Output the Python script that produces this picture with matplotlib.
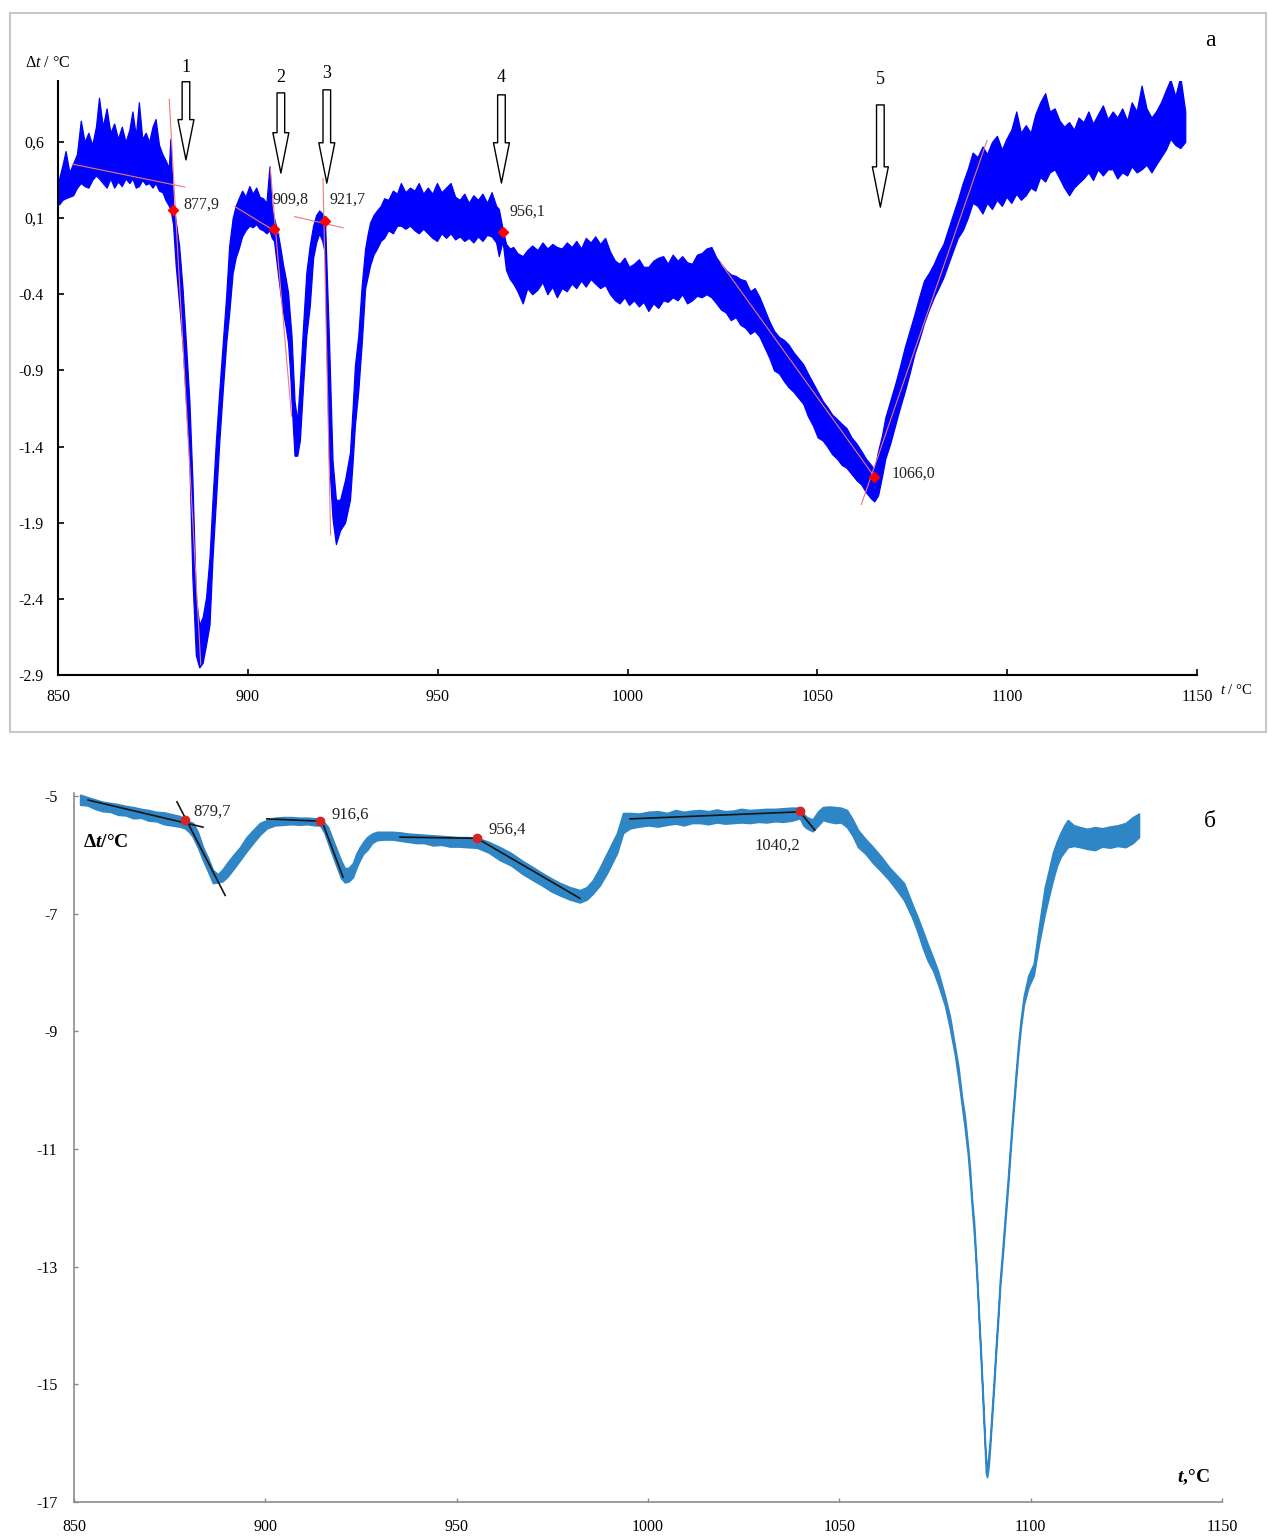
import numpy as np
import matplotlib.pyplot as plt
from matplotlib.patches import Rectangle

plt.rcParams['font.family'] = ['Liberation Serif', 'DejaVu Serif']
plt.rcParams['mathtext.fontset'] = 'custom'
plt.rcParams['mathtext.rm'] = 'Liberation Serif'
plt.rcParams['mathtext.it'] = 'Liberation Serif:italic'
plt.rcParams['mathtext.bf'] = 'Liberation Serif:bold'
plt.rcParams['mathtext.sf'] = 'Liberation Serif:italic:bold'

# ---------------- panel a: noisy DTA trace (lower / upper edge of the noise band)
a_t = [850.3, 851.2, 852.0, 853.0, 854.0, 855.0, 856.0, 857.0, 858.0, 859.0,
       860.0, 860.8, 861.8, 862.8, 863.8, 864.8, 865.8, 866.8, 867.8, 868.8,
       869.6, 870.5, 871.3, 872.2, 873.1, 874.0, 874.9, 875.7, 876.6, 877.5,
       878.3, 879.2, 879.6, 880.3, 881.0, 881.9, 882.8, 883.7, 884.6, 885.4,
       886.3, 887.2, 888.1, 889.0, 889.9, 890.7, 891.6, 892.5, 893.4, 894.3,
       895.1, 896.0, 896.8, 897.6, 898.5, 899.4, 900.4, 901.3, 902.2, 903.1,
       904.0, 904.9, 905.7, 906.3, 906.9, 907.9, 908.6, 909.3, 910.0, 910.6,
       911.1, 911.5, 912.3, 913.0, 913.7, 914.6, 915.4, 916.3, 917.2, 918.0,
       918.8, 919.6, 920.3, 920.7, 921.4, 922.3, 923.2, 924.3, 925.6, 926.9,
       927.6, 928.2, 929.1, 930.0, 930.9, 931.6, 932.2, 933.1, 934.0, 935.0,
       935.9, 937.0, 938.2, 939.3, 940.3, 941.5, 942.7, 943.9, 945.0, 946.2,
       947.4, 948.6, 949.8, 951.0, 952.2, 953.4, 954.6, 955.8, 957.0, 958.2,
       959.4, 960.6, 961.8, 963.0, 964.2, 965.4, 966.1, 967.1, 968.0, 969.0,
       969.9, 971.0, 972.4, 973.6, 974.9, 976.3, 977.6, 978.9, 980.2, 981.4,
       982.7, 984.0, 985.3, 986.5, 987.8, 989.0, 990.3, 991.5, 992.8, 994.1,
       995.4, 996.7, 997.9, 999.2, 1000.4, 1001.7, 1003.0, 1004.2, 1005.5, 1006.8,
       1008.1, 1009.4, 1010.6, 1011.9, 1013.2, 1014.4, 1015.7, 1017.0, 1018.3, 1019.5,
       1020.8, 1022.1, 1023.4, 1024.6, 1025.9, 1027.2, 1028.5, 1029.7, 1031.0, 1032.3,
       1033.5, 1034.8, 1036.1, 1037.4, 1038.6, 1039.9, 1041.2, 1042.4, 1043.7, 1045.0,
       1046.3, 1047.5, 1048.8, 1050.1, 1051.4, 1052.6, 1053.9, 1055.2, 1056.4, 1057.7,
       1059.0, 1060.3, 1061.6, 1062.8, 1064.1, 1065.0, 1066.0, 1067.0, 1067.9, 1069.2,
       1070.5, 1071.7, 1073.0, 1074.3, 1075.6, 1076.8, 1078.1, 1079.4, 1080.7, 1081.9,
       1083.2, 1084.5, 1085.8, 1087.0, 1088.3, 1089.6, 1090.9, 1092.2, 1093.5, 1094.7,
       1096.0, 1097.3, 1098.6, 1099.8, 1101.1, 1102.4, 1103.6, 1104.9, 1106.2, 1107.4,
       1108.7, 1110.0, 1111.2, 1112.5, 1113.8, 1115.0, 1116.3, 1117.6, 1118.8, 1120.1,
       1121.4, 1122.6, 1123.9, 1125.2, 1126.5, 1127.8, 1129.0, 1130.3, 1131.6, 1132.8,
       1134.1, 1135.4, 1136.7, 1138.0, 1139.2, 1140.5, 1141.8, 1143.0, 1144.3, 1145.6,
       1146.9]
a_lo = [0.19, 0.22, 0.23, 0.24, 0.25, 0.30, 0.33, 0.31, 0.30, 0.35,
        0.38, 0.36, 0.33, 0.30, 0.36, 0.30, 0.34, 0.31, 0.36, 0.33,
        0.36, 0.30, 0.31, 0.35, 0.32, 0.33, 0.30, 0.33, 0.28, 0.27,
        0.22, 0.18, 0.16, 0.06, -0.21, -0.46, -0.72, -1.10, -1.49, -2.26,
        -2.77, -2.85, -2.82, -2.70, -2.57, -2.13, -1.75, -1.36, -1.03, -0.72,
        -0.52, -0.26, -0.16, -0.10, -0.02, 0.02, 0.05, 0.04, 0.06, 0.03,
        0.02, 0.00, 0.02, -0.03, -0.05, -0.26, -0.40, -0.52, -0.62, -0.72,
        -0.90, -1.10, -1.46, -1.46, -1.36, -0.98, -0.67, -0.48, -0.16, -0.06,
        0.00, -0.05, -0.13, -0.72, -1.49, -1.87, -2.04, -1.95, -1.90, -1.75,
        -1.50, -1.26, -1.03, -0.72, -0.36, -0.28, -0.21, -0.14, -0.10, -0.05,
        -0.03, 0.02, 0.00, 0.05, 0.05, 0.03, 0.05, 0.02, 0.00, 0.03,
        0.00, -0.03, -0.05, 0.00, -0.03, 0.00, -0.04, -0.02, -0.05, -0.03,
        -0.06, -0.02, -0.05, -0.01, -0.02, -0.06, -0.15, -0.05, -0.24, -0.30,
        -0.33, -0.38, -0.46, -0.36, -0.40, -0.37, -0.32, -0.40, -0.35, -0.42,
        -0.36, -0.38, -0.33, -0.36, -0.31, -0.35, -0.30, -0.33, -0.36, -0.34,
        -0.40, -0.44, -0.46, -0.42, -0.47, -0.44, -0.48, -0.45, -0.51, -0.46,
        -0.49, -0.44, -0.45, -0.42, -0.44, -0.40, -0.46, -0.44, -0.41, -0.42,
        -0.40, -0.42, -0.46, -0.50, -0.52, -0.57, -0.55, -0.60, -0.62, -0.66,
        -0.64, -0.68, -0.75, -0.82, -0.90, -0.92, -0.97, -1.01, -1.04, -1.08,
        -1.12, -1.20, -1.26, -1.34, -1.36, -1.40, -1.45, -1.48, -1.52, -1.54,
        -1.58, -1.62, -1.65, -1.70, -1.74, -1.76, -1.72, -1.60, -1.48, -1.38,
        -1.26, -1.15, -1.04, -0.92, -0.79, -0.70, -0.59, -0.50, -0.42, -0.36,
        -0.29, -0.20, -0.11, -0.03, 0.02, 0.10, 0.20, 0.18, 0.13, 0.20,
        0.16, 0.22, 0.18, 0.24, 0.20, 0.26, 0.22, 0.25, 0.30, 0.28,
        0.37, 0.34, 0.40, 0.42, 0.36, 0.30, 0.25, 0.30, 0.33, 0.36,
        0.40, 0.35, 0.42, 0.38, 0.42, 0.42, 0.36, 0.40, 0.38, 0.44,
        0.40, 0.42, 0.45, 0.40, 0.45, 0.50, 0.55, 0.62, 0.58, 0.56,
        0.60]
a_hi = [0.36, 0.45, 0.54, 0.40, 0.46, 0.52, 0.74, 0.60, 0.66, 0.58,
        0.70, 0.89, 0.70, 0.82, 0.66, 0.72, 0.62, 0.70, 0.60, 0.68,
        0.80, 0.64, 0.86, 0.62, 0.66, 0.60, 0.70, 0.75, 0.58, 0.52,
        0.48, 0.43, 0.62, 0.20, 0.08, -0.08, -0.36, -0.72, -1.10, -1.62,
        -2.39, -2.57, -2.52, -2.39, -2.13, -1.75, -1.36, -1.03, -0.72, -0.41,
        -0.08, 0.10, 0.18, 0.23, 0.28, 0.24, 0.31, 0.26, 0.30, 0.24,
        0.23, 0.20, 0.44, 0.16, 0.10, 0.00, -0.10, -0.21, -0.30, -0.39,
        -0.55, -0.67, -1.10, -1.23, -0.98, -0.59, -0.26, -0.08, 0.05, 0.12,
        0.15, 0.13, 0.10, -0.20, -0.72, -1.49, -1.75, -1.75, -1.62, -1.44,
        -1.15, -0.87, -0.67, -0.34, -0.10, 0.00, 0.07, 0.12, 0.15, 0.18,
        0.23, 0.22, 0.28, 0.26, 0.33, 0.27, 0.30, 0.28, 0.33, 0.26,
        0.30, 0.26, 0.33, 0.27, 0.30, 0.33, 0.24, 0.22, 0.26, 0.20,
        0.25, 0.22, 0.26, 0.20, 0.27, 0.18, 0.16, 0.03, -0.07, -0.10,
        -0.09, -0.13, -0.15, -0.11, -0.08, -0.11, -0.06, -0.10, -0.07, -0.09,
        -0.10, -0.06, -0.09, -0.05, -0.10, -0.03, -0.06, -0.02, -0.07, -0.03,
        -0.12, -0.18, -0.20, -0.16, -0.22, -0.20, -0.17, -0.22, -0.22, -0.18,
        -0.16, -0.15, -0.20, -0.14, -0.18, -0.15, -0.19, -0.20, -0.14, -0.13,
        -0.10, -0.09, -0.16, -0.20, -0.24, -0.27, -0.28, -0.30, -0.31, -0.38,
        -0.36, -0.42, -0.50, -0.58, -0.64, -0.68, -0.70, -0.73, -0.78, -0.82,
        -0.86, -0.92, -0.98, -1.04, -1.10, -1.14, -1.19, -1.22, -1.25, -1.28,
        -1.34, -1.38, -1.43, -1.48, -1.52, -1.55, -1.43, -1.33, -1.21, -1.10,
        -0.99, -0.88, -0.75, -0.64, -0.53, -0.42, -0.31, -0.26, -0.20, -0.13,
        -0.07, 0.03, 0.13, 0.22, 0.33, 0.42, 0.53, 0.50, 0.57, 0.52,
        0.60, 0.64, 0.55, 0.62, 0.68, 0.80, 0.66, 0.71, 0.66, 0.78,
        0.86, 0.92, 0.80, 0.82, 0.74, 0.70, 0.73, 0.68, 0.76, 0.73,
        0.80, 0.72, 0.78, 0.84, 0.75, 0.80, 0.76, 0.82, 0.74, 0.86,
        0.80, 0.97, 0.82, 0.76, 0.80, 0.86, 0.94, 1.01, 0.90, 1.03,
        0.80]

a_onset_t = [880.3, 906.8, 920.3, 967.1, 1065.0]
a_onset_v = [0.151, 0.028, 0.080, 0.008, -1.597]
a_onset_txt = ['877,9', '909,8', '921,7', '956,1', '1066,0']
a_txt_t = [882.9, 906.6, 921.6, 969.0, 1069.5]
a_txt_v = [0.19, 0.22, 0.22, 0.14, -1.58]
# tangent lines (t1, v1, t2, v2)
a_tangents = [(853.7, 0.455, 883.4, 0.304), (879.3, 0.88, 887.6, -2.83),
              (896.5, 0.177, 908.4, -0.005), (905.9, 0.43, 911.5, -1.20),
              (912.3, 0.11, 925.1, 0.036), (919.8, 0.36, 921.8, -1.98),
              (1024.6, -0.197, 1065.0, -1.597), (1061.6, -1.78, 1094.7, 0.61)]
# hollow arrows: number, t, top, tip, label y
a_arrow_num = ['1', '2', '3', '4', '5']
a_arrow_t = [883.7, 908.7, 920.8, 966.8, 1066.6]
a_arrow_top = [0.995, 0.922, 0.942, 0.909, 0.843]
a_arrow_tip = [0.482, 0.396, 0.330, 0.330, 0.172]
a_arrow_lab = [1.087, 1.020, 1.047, 1.020, 1.008]
a_yticks = [0.6, 0.1, -0.4, -0.9, -1.4, -1.9, -2.4, -2.9]
a_ylabels = ['0,6', '0,1', '-0.4', '-0.9', '-1.4', '-1.9', '-2.4', '-2.9']
xticks = [850, 900, 950, 1000, 1050, 1100, 1150]

# ---------------- panel б
b_t = [851.6, 853.5, 855.5, 857.5, 859.5, 861.5, 863.5, 865.5, 867.5, 869.5,
       871.5, 873.5, 875.5, 877.5, 879.0, 880.2, 881.1, 882.4, 883.7, 885.0,
       886.3, 887.6, 888.8, 890.0, 891.7, 893.4, 895.1, 896.8, 898.6, 900.4,
       902.5, 904.7, 906.8, 909.0, 911.0, 913.0, 914.3, 915.4, 916.4, 917.5,
       918.7, 919.8, 920.8, 921.8, 922.9, 923.8, 924.7, 925.6, 926.6, 927.9,
       929.2, 931.2, 933.2, 935.2, 937.3, 939.4, 941.5, 943.8, 946.0, 948.2,
       950.4, 952.7, 955.3, 958.3, 961.3, 964.2, 967.1, 969.9, 972.3, 974.7,
       977.0, 979.6, 982.2, 984.0, 985.6, 987.4, 989.3, 990.6, 991.9, 992.7,
       993.5, 995.3, 997.7, 1000.1, 1002.6, 1005.0, 1007.2, 1009.4, 1011.5, 1013.6,
       1015.8, 1018.0, 1020.1, 1022.2, 1024.4, 1026.6, 1028.8, 1031.0, 1033.2, 1035.3,
       1037.5, 1039.7, 1040.6, 1041.5, 1043.0, 1044.5, 1045.7, 1047.3, 1048.9, 1050.4,
       1052.0, 1053.5, 1054.9, 1056.8, 1058.8, 1060.9, 1063.0, 1065.0, 1066.9, 1069.0,
       1070.4, 1071.8, 1073.1, 1074.5, 1075.8, 1077.6, 1078.9, 1080.2, 1081.1, 1082.0,
       1082.8, 1083.6, 1084.1, 1084.6, 1085.2, 1085.7, 1086.1, 1086.5, 1086.9, 1087.3,
       1087.6, 1087.9, 1088.3, 1088.6, 1089.0, 1089.4, 1089.9, 1090.4, 1090.9, 1091.4,
       1092.0, 1092.7, 1093.4, 1094.1, 1094.7, 1095.4, 1096.0, 1096.7, 1097.4, 1098.2,
       1099.4, 1100.8, 1102.2, 1103.7, 1104.8, 1105.8, 1106.8, 1107.8, 1108.8, 1109.7,
       1111.3, 1112.9, 1114.8, 1116.8, 1118.7, 1120.7, 1122.7, 1124.8, 1126.7, 1128.3]
b_lo = [-5.15, -5.16, -5.22, -5.26, -5.27, -5.32, -5.33, -5.38, -5.37, -5.42,
        -5.43, -5.48, -5.50, -5.52, -5.55, -5.62, -5.70, -5.88, -6.09, -6.28,
        -6.48, -6.47, -6.45, -6.38, -6.24, -6.09, -5.94, -5.80, -5.66, -5.55,
        -5.50, -5.49, -5.48, -5.49, -5.48, -5.50, -5.50, -5.62, -5.80, -6.00,
        -6.21, -6.40, -6.47, -6.45, -6.38, -6.22, -6.09, -5.98, -5.92, -5.80,
        -5.75, -5.74, -5.74, -5.76, -5.78, -5.80, -5.80, -5.84, -5.83, -5.86,
        -5.86, -5.87, -5.88, -5.96, -6.09, -6.18, -6.32, -6.43, -6.52, -6.62,
        -6.69, -6.76, -6.81, -6.76, -6.66, -6.52, -6.31, -6.14, -5.97, -5.80,
        -5.63, -5.55, -5.52, -5.50, -5.52, -5.49, -5.47, -5.50, -5.46, -5.46,
        -5.48, -5.45, -5.47, -5.46, -5.45, -5.46, -5.44, -5.45, -5.43, -5.44,
        -5.42, -5.38, -5.50, -5.55, -5.60, -5.50, -5.41, -5.44, -5.46, -5.45,
        -5.53, -5.68, -5.87, -5.98, -6.14, -6.28, -6.43, -6.60, -6.77, -7.06,
        -7.30, -7.58, -7.80, -7.97, -8.20, -8.56, -8.95, -9.40, -9.80, -10.25,
        -10.65, -11.10, -11.50, -11.95, -12.45, -12.98, -13.45, -14.00, -14.50, -15.05,
        -15.50, -15.90, -16.50, -16.58, -16.40, -16.05, -15.55, -15.05, -14.50, -14.00,
        -13.35, -12.80, -12.20, -11.62, -11.05, -10.45, -9.95, -9.40, -8.95, -8.55,
        -8.25, -8.05, -7.50, -7.00, -6.70, -6.43, -6.20, -6.04, -5.95, -5.87,
        -5.85, -5.87, -5.90, -5.92, -5.86, -5.88, -5.85, -5.87, -5.80, -5.70]
b_hi = [-4.98, -5.02, -5.06, -5.10, -5.12, -5.14, -5.17, -5.19, -5.22, -5.24,
        -5.27, -5.28, -5.31, -5.34, -5.38, -5.44, -5.46, -5.62, -5.87, -6.05,
        -6.26, -6.33, -6.25, -6.14, -6.00, -5.87, -5.70, -5.58, -5.46, -5.41,
        -5.37, -5.36, -5.36, -5.37, -5.37, -5.38, -5.39, -5.45, -5.53, -5.72,
        -5.92, -6.10, -6.23, -6.22, -6.14, -5.98, -5.87, -5.78, -5.70, -5.64,
        -5.61, -5.61, -5.61, -5.62, -5.64, -5.65, -5.66, -5.67, -5.68, -5.69,
        -5.70, -5.70, -5.71, -5.78, -5.87, -5.97, -6.10, -6.21, -6.31, -6.40,
        -6.48, -6.55, -6.60, -6.55, -6.43, -6.22, -5.97, -5.80, -5.63, -5.46,
        -5.29, -5.29, -5.30, -5.27, -5.26, -5.29, -5.24, -5.27, -5.25, -5.24,
        -5.26, -5.23, -5.26, -5.25, -5.22, -5.24, -5.23, -5.22, -5.22, -5.21,
        -5.20, -5.20, -5.30, -5.36, -5.40, -5.26, -5.19, -5.18, -5.19, -5.20,
        -5.24, -5.40, -5.58, -5.73, -5.87, -6.03, -6.21, -6.35, -6.48, -6.83,
        -7.05, -7.29, -7.52, -7.75, -7.98, -8.40, -8.75, -9.25, -9.60, -10.10,
        -10.45, -10.95, -11.30, -11.80, -12.25, -12.82, -13.30, -13.85, -14.35, -14.90,
        -15.30, -15.75, -16.30, -16.40, -16.20, -15.90, -15.40, -14.90, -14.35, -13.85,
        -13.20, -12.65, -12.05, -11.45, -10.90, -10.30, -9.80, -9.25, -8.80, -8.40,
        -8.05, -7.85, -7.20, -6.55, -6.25, -5.97, -5.78, -5.63, -5.50, -5.41,
        -5.50, -5.53, -5.56, -5.53, -5.55, -5.52, -5.50, -5.46, -5.36, -5.30]

b_onset_t = [879.0, 914.3, 955.3, 1039.7]
b_onset_v = [-5.41, -5.43, -5.72, -5.26]
b_onset_txt = ['879,7', '916,6', '956,4', '1040,2']
b_txt_t = [881.1, 917.4, 958.2, 1027.9]
b_txt_v = [-5.27, -5.32, -5.58, -5.85]
b_tangents = [(853.7, -5.07, 883.7, -5.53), (876.9, -5.10, 889.5, -6.69),
              (900.4, -5.39, 914.8, -5.43), (914.8, -5.43, 920.3, -6.38),
              (935.2, -5.70, 955.3, -5.72), (955.3, -5.72, 982.2, -6.74),
              (995.3, -5.39, 1039.7, -5.27), (1039.7, -5.27, 1043.6, -5.58)]
b_yticks = [-5, -7, -9, -11, -13, -15, -17]

W, H = 1268, 1537
fig = plt.figure(figsize=(W / 100, H / 100), dpi=100)

# frame around panel a
fig.add_artist(Rectangle((10 / W, 1 - 732 / H), 1256 / W, 719 / H,
                         transform=fig.transFigure, fill=False,
                         ec='#c8c8c8', lw=1.5))

# ---------------- panel a
ax = fig.add_axes([58 / W, 1 - 675 / H, (1197 - 58) / W, (675 - 81) / H])
ax.fill_between(a_t, a_lo, a_hi, color='#0000ff', lw=0.9, edgecolor='#0000ff')
for t1, v1, t2, v2 in a_tangents:
    ax.plot([t1, t2], [v1, v2], color='#f07878', lw=0.8)
ax.plot(a_onset_t, a_onset_v, 'D', color='red', ms=5, ls='none')
for tt, vv, s in zip(a_txt_t, a_txt_v, a_onset_txt):
    ax.text(tt, vv, s, fontsize=11.5, va='center', ha='left', color='#222222')
for n, tt, top, tip, lab in zip(a_arrow_num, a_arrow_t, a_arrow_top, a_arrow_tip, a_arrow_lab):
    ax.annotate('', xy=(tt, tip), xytext=(tt, top), annotation_clip=False,
                arrowprops=dict(arrowstyle='simple,head_length=2.9,head_width=1.15,tail_width=0.55',
                                fc='white', ec='black', lw=1.0, shrinkA=0, shrinkB=0,
                                mutation_scale=10))
    ax.text(tt, lab, n, fontsize=13, ha='center', va='center', clip_on=False)

ax.set_xlim(850, 1150)
ax.set_ylim(-2.9, 1.0)
ax.set_xticks(xticks)
ax.set_xticklabels([str(v) for v in xticks])
ax.set_yticks(a_yticks)
ax.set_yticklabels(a_ylabels)
ax.tick_params(direction='in', length=4, width=1.2, labelsize=11.5, pad=10)
for s in ['top', 'right']:
    ax.spines[s].set_visible(False)
for s in ['left', 'bottom']:
    ax.spines[s].set_linewidth(1.5)

fig.text(25 / W, 1 - 63 / H, r'$\Delta t$ / °C', fontsize=11.5, va='center', ha='left')
fig.text(1220 / W, 1 - 690 / H, r'$t$ / °C', fontsize=10.5, va='center', ha='left')
fig.text(1210 / W, 1 - 40 / H, 'а', fontsize=17, va='center', ha='center')

# ---------------- panel б
bx = fig.add_axes([74 / W, 1 - 1502 / H, (1222 - 74) / W, (1502 - 793) / H])
bx.fill_between(b_t, b_lo, b_hi, color='#2f86c6', lw=1.2, edgecolor='#2f86c6')
for t1, v1, t2, v2 in b_tangents:
    bx.plot([t1, t2], [v1, v2], color='#151515', lw=1.2)
bx.plot(b_onset_t, b_onset_v, 'o', color='#d42424', ms=6, ls='none')
for tt, vv, s in zip(b_txt_t, b_txt_v, b_onset_txt):
    bx.text(tt, vv, s, fontsize=12, va='center', ha='left', color='#222222')

bx.set_xlim(850, 1150)
bx.set_ylim(-17, -4.95)
bx.set_xticks(xticks)
bx.set_xticklabels([str(v) for v in xticks])
bx.set_yticks(b_yticks)
bx.set_yticklabels([str(v) for v in b_yticks])
bx.tick_params(direction='in', length=3, width=1.0, color='#888888',
               labelsize=11.5, pad=12)
for s in ['top', 'right']:
    bx.spines[s].set_visible(False)
for s in ['left', 'bottom']:
    bx.spines[s].set_linewidth(1.2)
    bx.spines[s].set_color('#8c8c8c')

fig.text(83 / W, 1 - 843 / H, r'$\mathbf{\Delta}\mathsf{t}$/°C', fontsize=14,
         fontweight='bold', va='center', ha='left')
fig.text(1177 / W, 1 - 1477 / H, r'$\mathsf{t}$,°C', fontsize=14,
         fontweight='bold', va='center', ha='left')
fig.text(1210 / W, 1 - 822 / H, 'б', fontsize=17, va='center', ha='center')

fig.savefig('out.png', dpi=100, facecolor='white')
